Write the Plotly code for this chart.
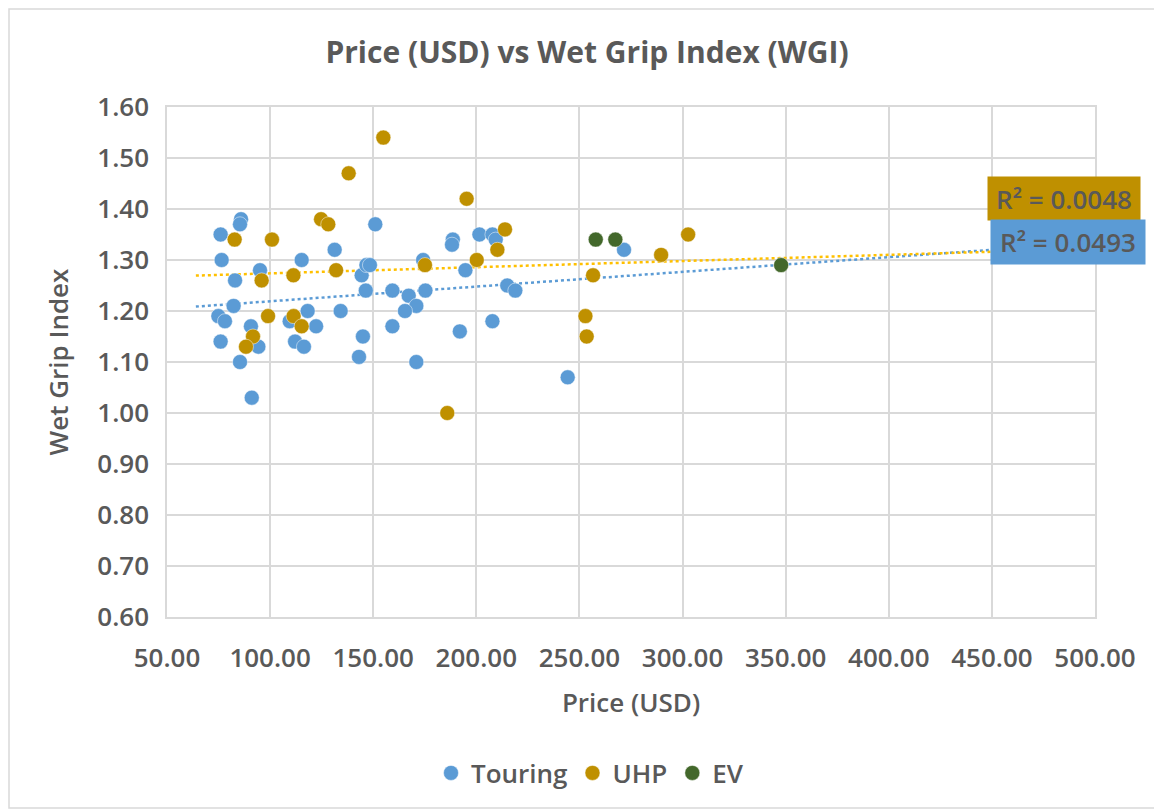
import numpy as np
import plotly.graph_objects as go

# ---------------- data ----------------
touring_price = [76.0, 85.9, 85.4, 76.5, 83.0, 95.1, 82.3, 74.9, 78.1, 90.7, 76.0, 94.3, 85.4, 91.1,
                 115.3, 131.3, 151.0, 118.2, 109.5, 122.3, 112.1, 116.4, 134.2, 144.4, 146.7, 148.4,
                 146.4, 145.0, 143.1, 159.3, 159.3, 167.2, 170.9, 165.4, 175.3, 174.2, 170.9,
                 188.6, 188.2, 192.0, 201.5, 207.8, 209.4, 194.7, 215.0, 218.9, 207.8, 244.3, 271.6]
touring_wgi = [1.35, 1.38, 1.37, 1.30, 1.26, 1.28, 1.21, 1.19, 1.18, 1.17, 1.14, 1.13, 1.10, 1.03,
               1.30, 1.32, 1.37, 1.20, 1.18, 1.17, 1.14, 1.13, 1.20, 1.27, 1.29, 1.29,
               1.24, 1.15, 1.11, 1.24, 1.17, 1.23, 1.21, 1.20, 1.24, 1.30, 1.10,
               1.34, 1.33, 1.16, 1.35, 1.35, 1.34, 1.28, 1.25, 1.24, 1.18, 1.07, 1.32]

uhp_price = [154.9, 138.1, 124.7, 128.2, 82.8, 100.9, 132.0, 95.9, 111.3, 175.1, 99.0, 111.4, 115.3,
             91.7, 88.3, 185.9, 195.3, 213.9, 210.2, 200.2, 256.6, 252.9, 253.5, 289.6, 302.7]
uhp_wgi = [1.54, 1.47, 1.38, 1.37, 1.34, 1.34, 1.28, 1.26, 1.27, 1.29, 1.19, 1.19, 1.17,
           1.15, 1.13, 1.00, 1.42, 1.36, 1.32, 1.30, 1.27, 1.19, 1.15, 1.31, 1.35]

ev_price = [257.9, 267.4, 347.8]
ev_wgi = [1.34, 1.34, 1.29]

trend_x_extent = [64.0, 450.0]
r2_labels = ["R² = 0.0048", "R² = 0.0493"]   # UHP, Touring

x_ticks = [50, 100, 150, 200, 250, 300, 350, 400, 450, 500]
y_ticks = [0.6, 0.7, 0.8, 0.9, 1.0, 1.1, 1.2, 1.3, 1.4, 1.5, 1.6]

# ---------------- style ----------------
C_TOUR = "#5B9BD5"
C_UHP = "#BF9000"
C_EV = "#43682B"
C_UHP_TREND = "#FFC000"
TXT = "#595959"
GRID = "#D9D9D9"
FONT = "Open Sans"

# plot area in screen pixels (page has an 8px body offset)
PL, PR, PT, PB = 167, 1095, 107, 617
OFF = 8


def px_x(sx):
    return (sx - PL) / (PR - PL)


def px_y(sy):
    return (PB - sy) / (PB - PT)


def trend(xs, ys):
    m, b = np.polyfit(xs, ys, 1)
    tx = np.array(trend_x_extent)
    return tx, m * tx + b


fig = go.Figure()

tx, ty = trend(touring_price, touring_wgi)
fig.add_trace(go.Scatter(x=tx, y=ty, mode="lines", showlegend=False, hoverinfo="skip",
                         line=dict(color=C_TOUR, width=2.5, dash="dot")))
ux, uy = trend(uhp_price, uhp_wgi)
fig.add_trace(go.Scatter(x=ux, y=uy, mode="lines", showlegend=False, hoverinfo="skip",
                         line=dict(color=C_UHP_TREND, width=2.5, dash="dot")))

marker_kw = dict(size=15, line=dict(width=0.8, color="rgba(255,255,255,0.6)"))
fig.add_trace(go.Scatter(x=touring_price, y=touring_wgi, mode="markers", name="Touring",
                         marker=dict(color=C_TOUR, **marker_kw)))
fig.add_trace(go.Scatter(x=uhp_price, y=uhp_wgi, mode="markers", name="UHP",
                         marker=dict(color=C_UHP, **marker_kw)))
fig.add_trace(go.Scatter(x=ev_price, y=ev_wgi, mode="markers", name="EV",
                         marker=dict(color=C_EV, **marker_kw)))

# R² labels
fig.add_annotation(xref="paper", yref="paper", x=px_x(1064), y=px_y(198),
                   xanchor="center", yanchor="middle",
                   text=r2_labels[0], showarrow=False, bgcolor=C_UHP, width=150, height=41,
                   font=dict(family=FONT, size=26, color=TXT, weight=600))
fig.add_annotation(xref="paper", yref="paper", x=px_x(1068), y=px_y(242),
                   xanchor="center", yanchor="middle",
                   text=r2_labels[1], showarrow=False, bgcolor=C_TOUR, width=152, height=42,
                   font=dict(family=FONT, size=26, color=TXT, weight=600))

# outer chart border
fig.add_shape(type="rect", xref="paper", yref="paper",
              x0=px_x(OFF + 1), x1=px_x(1160),
              y0=px_y(808), y1=px_y(OFF + 1),
              line=dict(color=GRID, width=1.5), fillcolor="rgba(0,0,0,0)", layer="below")

axis_common = dict(showgrid=True, gridcolor=GRID, gridwidth=1.5, zeroline=False,
                   showline=True, linecolor=GRID, linewidth=1.5, mirror=True, ticks="",
                   tickfont=dict(family=FONT, size=26, color=TXT, weight=600))

fig.update_layout(
    width=1162, height=810,
    margin=dict(l=PL - OFF, r=1162 + OFF - PR, t=PT - OFF, b=810 + OFF - PB),
    paper_bgcolor="white", plot_bgcolor="white",
    title=dict(text="Price (USD) vs Wet Grip Index (WGI)", x=(587 - OFF) / 1162, xanchor="center",
               y=1 - (52 - OFF) / 810, yanchor="middle",
               font=dict(family=FONT, size=30, color=TXT, weight=700)),
    xaxis=dict(range=[50, 500], tickvals=x_ticks, tickformat=".2f",
               ticklabelstandoff=17,
               title=dict(text="Price (USD)", standoff=20,
                          font=dict(family=FONT, size=26, color=TXT, weight=600)),
               **axis_common),
    yaxis=dict(range=[0.6, 1.6], tickvals=y_ticks, tickformat=".2f",
               ticklabelstandoff=11,
               title=dict(text="Wet Grip Index", standoff=21,
                          font=dict(family=FONT, size=26, color=TXT, weight=600)),
               **axis_common),
    legend=dict(orientation="h", x=px_x(590), xanchor="center",
                y=px_y(773), yanchor="middle",
                font=dict(family=FONT, size=26, color=TXT, weight=600),
                itemsizing="trace", tracegroupgap=0, entrywidthmode="pixels"),
    showlegend=True,
)

fig.write_html("out.html")
